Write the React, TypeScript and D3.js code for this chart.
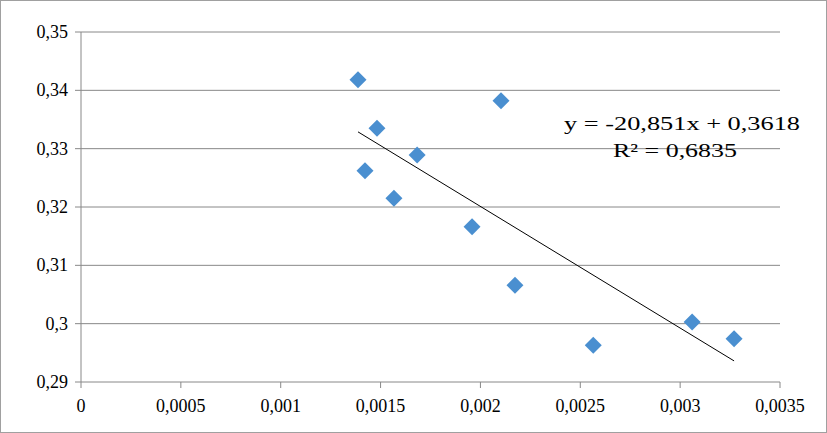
import * as d3 from 'd3'

const xs = [0.001387, 0.001482, 0.001422, 0.001567, 0.001683, 0.001958, 0.002103, 0.002173, 0.002565, 0.00306, 0.00327]
const ys = [0.3418, 0.3335, 0.3262, 0.3215, 0.3289, 0.3166, 0.3382, 0.3066, 0.2963, 0.3003, 0.2974]
const xTicks = [0, 0.0005, 0.001, 0.0015, 0.002, 0.0025, 0.003, 0.0035]
const yTicks = [0.29, 0.3, 0.31, 0.32, 0.33, 0.34, 0.35]
const slope = -20.851
const intercept = 0.3618

const fmt = (v: number) => String(+v.toFixed(4)).replace('.', ',')

export default function App() {
  const W = 827, H = 433
  const x = d3.scaleLinear().domain([0, 0.0035]).range([81, 780])
  const y = d3.scaleLinear().domain([0.29, 0.35]).range([382, 32])
  const x0 = d3.min(xs)!, x1 = d3.max(xs)!
  const font = '"Liberation Serif", "Times New Roman", serif'
  return (
    <svg width={W} height={H} style={{ position: 'absolute', left: 0, top: 0 }} fontFamily={font}>
      <rect x={0.5} y={0.5} width={W - 1} height={H - 1} fill="#fff" stroke="#a0a0a0" />
      {yTicks.map(t => (
        <g key={t}>
          <line x1={81} x2={780} y1={y(t)} y2={y(t)} stroke="#888" strokeWidth={1} />
          <line x1={75} x2={81} y1={y(t)} y2={y(t)} stroke="#888" />
          <text x={68} y={y(t) + 6} textAnchor="end" fontSize={18}>{fmt(t)}</text>
        </g>
      ))}
      <line x1={81} x2={81} y1={32} y2={382} stroke="#888" />
      {xTicks.map(t => (
        <g key={t}>
          <line x1={x(t)} x2={x(t)} y1={382} y2={388} stroke="#888" />
          <text x={x(t)} y={412} textAnchor="middle" fontSize={18}>{fmt(t)}</text>
        </g>
      ))}
      <line x1={x(x0)} y1={y(slope * x0 + intercept)} x2={x(x1)} y2={y(slope * x1 + intercept)} stroke="#000" strokeWidth={1} />
      {xs.map((v, i) => (
        <rect key={i} x={x(v) - 6} y={y(ys[i]) - 6} width={12} height={12} fill="#4a8fd0"
          transform={`rotate(45 ${x(v)} ${y(ys[i])})`} />
      ))}
      <text x={564} y={130} fontSize={19} textLength={236} lengthAdjust="spacingAndGlyphs">y = -20,851x + 0,3618</text>
      <text x={613} y={157} fontSize={19} textLength={124} lengthAdjust="spacingAndGlyphs">R² = 0,6835</text>
    </svg>
  )
}
